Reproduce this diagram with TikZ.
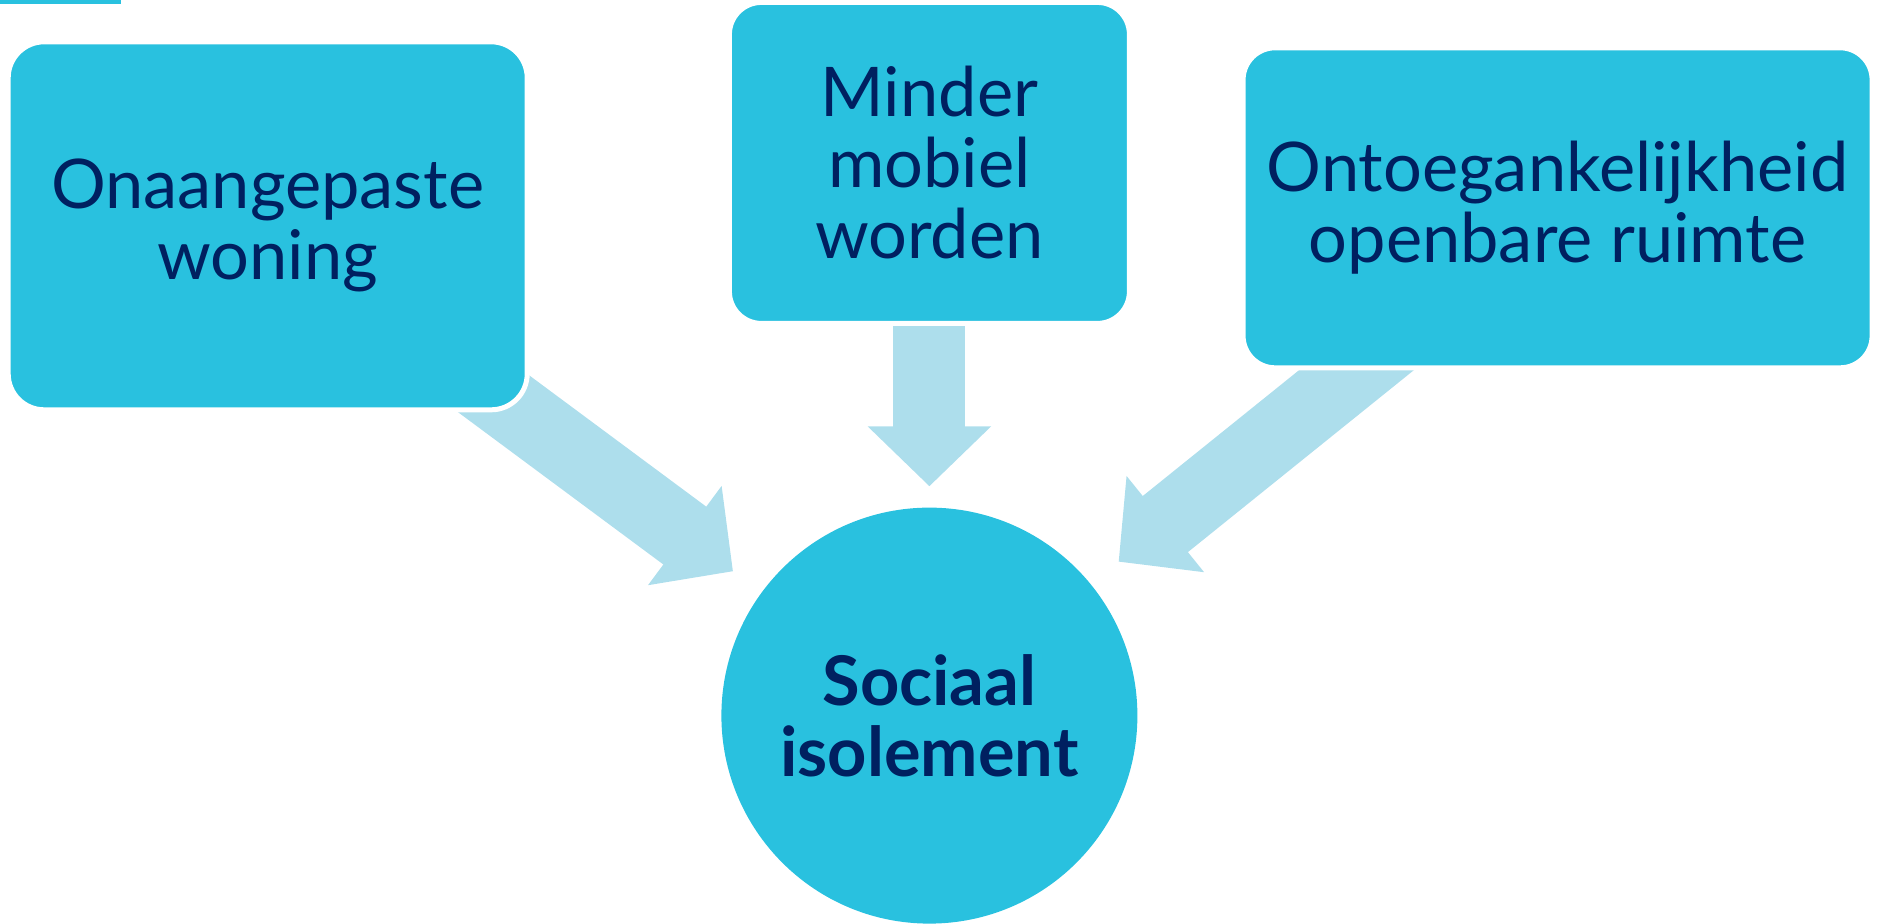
\documentclass[tikz,border=0pt]{standalone}
\usepackage{fontspec}
\setmainfont{Lato}
\usetikzlibrary{arrows.meta,backgrounds}
\definecolor{boxblue}{HTML}{29C1DF}
\definecolor{arrowblue}{HTML}{ADDEEC}
\definecolor{textblue}{HTML}{002060}

\begin{document}
\begin{tikzpicture}[
    cause/.style={rectangle, fill=boxblue, draw=white, line width=0.05cm,
      text=textblue, align=center, font=\fontsize{19.5}{20.2}\selectfont},
    bigarrow/.style={draw=arrowblue, line width=0.72cm,
      -{Triangle[width=1.2cm,length=0.6cm,fill=arrowblue]}}]
    \useasboundingbox (0,0) rectangle (18.78,-9.23);
    \fill[boxblue] (0,0) rectangle (1.21,-0.04);
    %%
    \node[cause, rounded corners=0.36cm, minimum width=5.19cm, minimum height=3.68cm]
      (woning) at (2.677,-2.258) {Onaangepaste\\woning};
    \node[cause, rounded corners=0.32cm, minimum width=4.0cm, minimum height=3.21cm]
      (mobiel) at (9.294,-1.629) {Minder\\mobiel\\worden};
    \node[cause, rounded corners=0.32cm, minimum width=6.29cm, minimum height=3.2cm]
      (ruimte) at (15.576,-2.078) {Ontoegankelijkheid\\openbare ruimte};
    \node[circle, fill=boxblue, minimum size=4.16cm, text=textblue, align=center,
      font=\fontsize{19.5}{20.2}\selectfont\bfseries]
      (isolement) at (9.294,-7.156) {Sociaal\\isolement};
    %%
    \coordinate (tipL) at (7.33,-5.713);
    \coordinate (tipM) at (9.294,-4.863);
    \coordinate (tipR) at (11.186,-5.617);
    \begin{scope}[on background layer]
      \draw[bigarrow, shorten <=-0.6cm] (woning) -- (tipL);
      \draw[bigarrow, shorten <=-0.3cm] (mobiel) -- (tipM);
      \draw[bigarrow, shorten <=-0.6cm] (ruimte) -- (tipR);
    \end{scope}
\end{tikzpicture}
\end{document}
